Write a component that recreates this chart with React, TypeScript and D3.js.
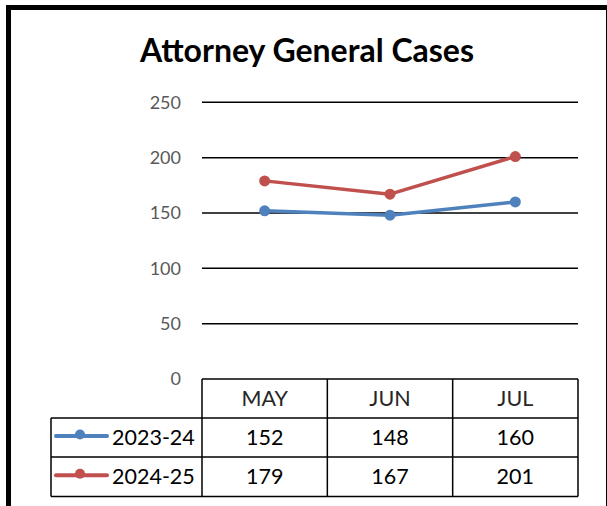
import React from "react";
import * as d3 from "d3";

const months = ["MAY", "JUN", "JUL"];
const seriesNames = ["2023-24", "2024-25"];
const values2023 = [152, 148, 160];
const values2024 = [179, 167, 201];
const yTicks = [0, 50, 100, 150, 200, 250];
const colors = ["#4f81bd", "#c0504d"];
const title = "Attorney General Cases";

const FONT = "Lato, 'Open Sans', sans-serif";

export default function App() {
  const W = 607;
  const H = 506;
  const plotLeft = 202;
  const plotRight = 578;
  const yZero = 379;
  const yTop = 102.3;
  const tableLeft = 51;
  const rowH = [379, 418, 457, 496.5];
  const tableFont = 21.5;

  const x = d3.scaleBand<string>().domain(months).range([plotLeft, plotRight]).padding(0);
  const y = d3.scaleLinear().domain([0, 250]).range([yZero, yTop]);
  const series = [values2023, values2024];

  const line = d3
    .line<number>()
    .x((_, i) => (x(months[i]) as number) + x.bandwidth() / 2)
    .y((d) => y(d));

  const colBounds = months.map((m) => x(m) as number).concat([plotRight]);

  return (
    <svg
      width={W}
      height={H}
      style={{ position: "absolute", left: 0, top: 0, background: "#fff" }}
      fontFamily={FONT}
    >
      <rect x={8.5} y={7.5} width={600} height={520} fill="#fff" stroke="#000" strokeWidth={5} />
      <text x={307} y={62} textAnchor="middle" fontSize={32} fontWeight="bold" fill="#000">
        {title}
      </text>

      {/* gridlines */}
      {yTicks
        .filter((t) => t > 0)
        .map((t) => (
          <line key={t} x1={plotLeft} x2={plotRight} y1={y(t)} y2={y(t)} stroke="#000" strokeWidth={1.5} />
        ))}
      {/* y labels */}
      {yTicks.map((t) => (
        <text
          key={"l" + t}
          x={181}
          y={y(t)}
          dy="0.35em"
          textAnchor="end"
          fontSize={18}
          fill="#595959"
        >
          {t}
        </text>
      ))}

      {/* lines */}
      {series.map((s, si) => (
        <g key={si}>
          <path d={line(s) as string} fill="none" stroke={colors[si]} strokeWidth={3.5} strokeLinejoin="round" />
          {s.map((v, i) => (
            <circle
              key={i}
              cx={(x(months[i]) as number) + x.bandwidth() / 2}
              cy={y(v)}
              r={5.5}
              fill={colors[si]}
            />
          ))}
        </g>
      ))}

      {/* table */}
      <g stroke="#000" strokeWidth={1.5} fill="none">
        <line x1={plotLeft} x2={plotRight} y1={rowH[0]} y2={rowH[0]} />
        <line x1={tableLeft} x2={plotRight} y1={rowH[1]} y2={rowH[1]} />
        <line x1={tableLeft} x2={plotRight} y1={rowH[2]} y2={rowH[2]} />
        <line x1={tableLeft} x2={plotRight} y1={rowH[3]} y2={rowH[3]} />
        <line x1={tableLeft} x2={tableLeft} y1={rowH[1]} y2={rowH[3]} />
        {colBounds.map((cx, i) => (
          <line key={i} x1={cx} x2={cx} y1={rowH[0]} y2={rowH[3]} />
        ))}
      </g>
      {months.map((m) => (
        <text
          key={m}
          x={(x(m) as number) + x.bandwidth() / 2}
          y={(rowH[0] + rowH[1]) / 2}
          dy="0.36em"
          textAnchor="middle"
          fontSize={tableFont}
          fill="#262626"
        >
          {m}
        </text>
      ))}
      {series.map((s, si) => {
        const cy = (rowH[si + 1] + rowH[si + 2]) / 2;
        return (
          <g key={"row" + si}>
            <line x1={56} x2={107} y1={cy - 1.5} y2={cy - 1.5} stroke={colors[si]} strokeWidth={4} strokeLinecap="round" />
            <circle cx={80} cy={cy - 3} r={5} fill={colors[si]} />
            <text x={112} y={cy} dy="0.36em" fontSize={tableFont} fill="#000">
              {seriesNames[si]}
            </text>
            {s.map((v, i) => (
              <text
                key={i}
                x={(x(months[i]) as number) + x.bandwidth() / 2}
                y={cy}
                dy="0.36em"
                textAnchor="middle"
                fontSize={tableFont}
                fill="#000"
              >
                {v}
              </text>
            ))}
          </g>
        );
      })}
    </svg>
  );
}
